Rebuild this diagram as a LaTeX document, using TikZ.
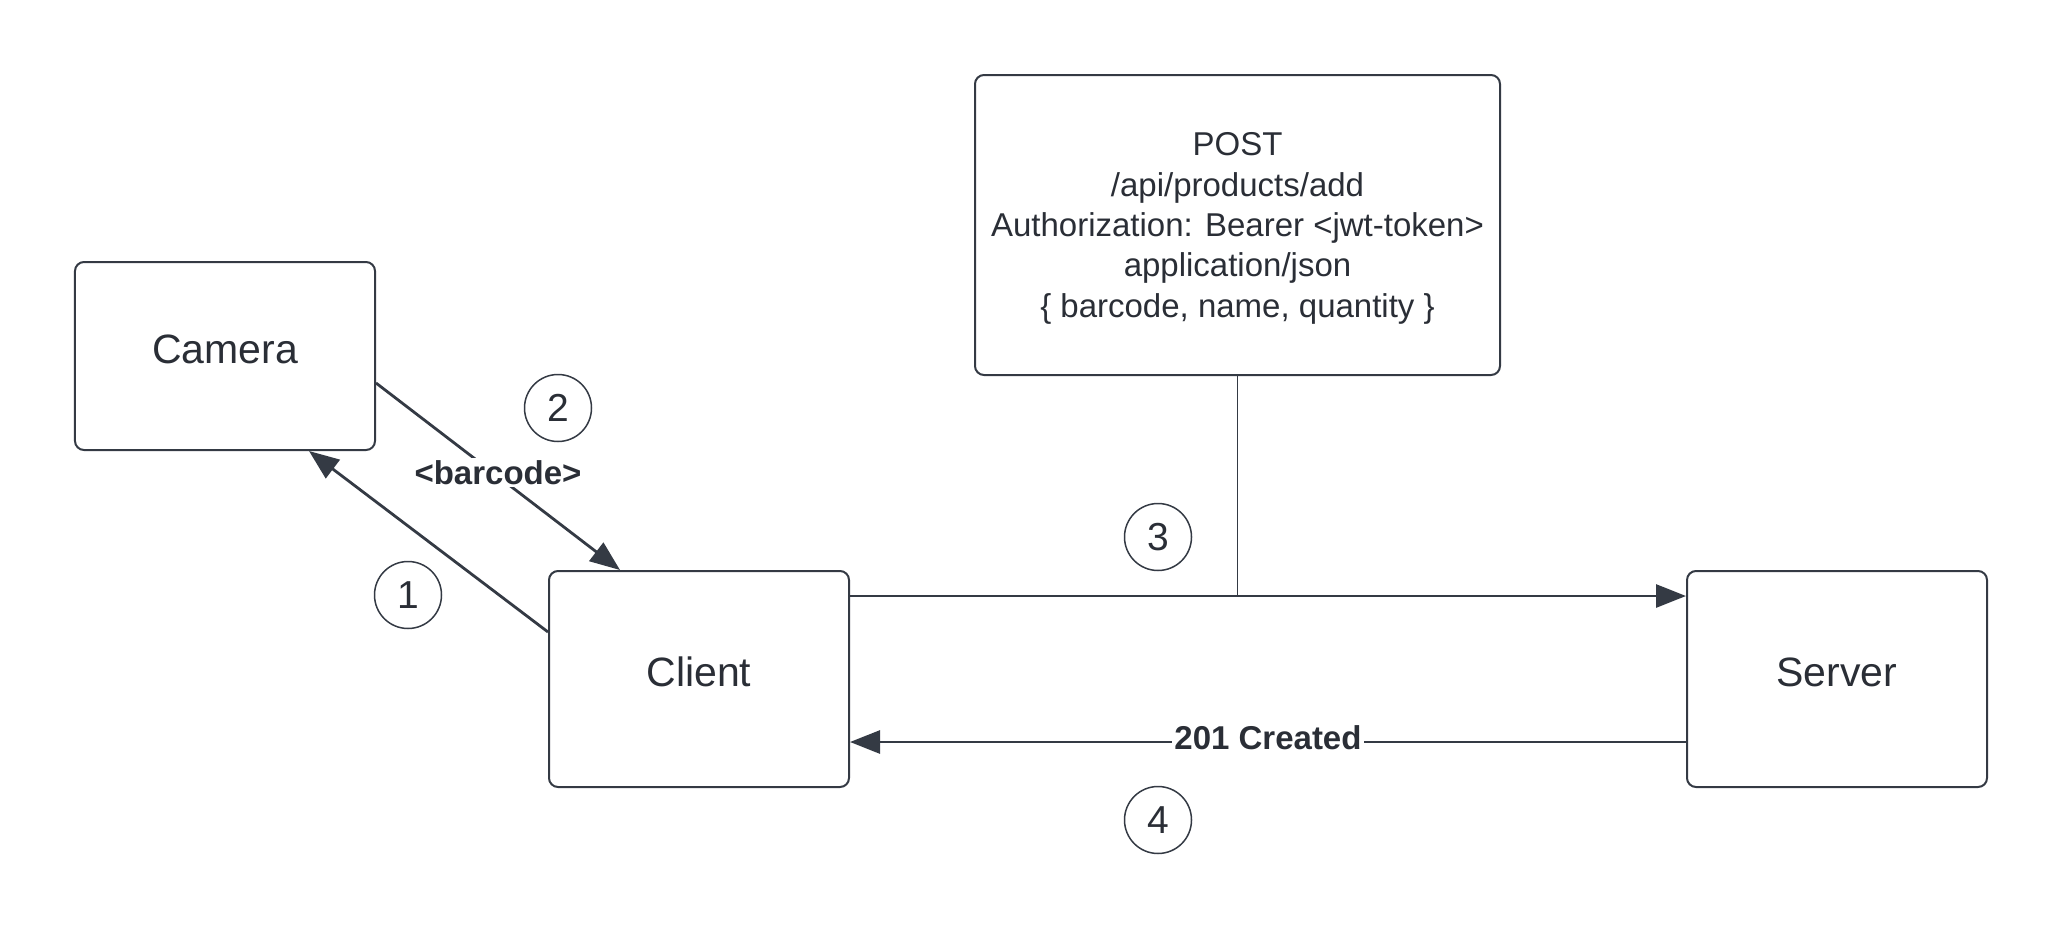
\documentclass[tikz,border=0pt]{standalone}
\usepackage{fontspec}
\setmainfont{Liberation Sans}
\usetikzlibrary{arrows.meta}
\definecolor{ink}{RGB}{52,58,68}
\definecolor{txt}{RGB}{42,46,54}
\begin{document}
\begin{tikzpicture}[x=1bp,y=-1bp,
  box/.style={draw=ink, line width=2bp, rounded corners=9bp, minimum width=300bp, inner sep=0pt, text=txt, text depth=14bp, font=\fontsize{41bp}{49bp}\selectfont},
  notebox/.style={draw=ink, line width=2bp, rounded corners=9bp, minimum width=525bp, minimum height=300bp, inner sep=0pt, text=txt, align=center, font=\fontsize{33bp}{40.3bp}\selectfont},
  stepnum/.style={draw=ink, line width=1.5bp, circle, minimum size=67bp, inner sep=0pt, text=txt, font=\fontsize{39bp}{44bp}\selectfont},
  arr/.style={draw=ink, line width=2.8bp, -{Triangle[length=30bp, width=23bp]}},
  lbl/.style={fill=white, text=txt, inner sep=2bp, yshift=4bp, font=\fontsize{33bp}{40bp}\selectfont\bfseries},
  thin/.style={draw=ink, line width=1.2bp}]
\useasboundingbox (0,0) rectangle (2063,928);

\node[box, minimum height=188bp] (camera) at (225,356) {Camera};
\node[box, minimum height=216bp] (client) at (699,679) {Client};
\node[box, minimum height=216bp] (server) at (1837,679) {Server};
\node[notebox, text depth=0bp] (post) at (1237.5,225) {POST\\/api/products/add\\Authorization: Bearer <jwt-token>\\application/json\\\{ barcode, name, quantity \}};

\node[stepnum] (s1) at (408,595) {1};
\node[stepnum] (s2) at (558,408) {2};
\node[stepnum] (s3) at (1158,537) {3};
\node[stepnum] (s4) at (1158,820) {4};

\coordinate (c3a) at ([yshift=83bp]client.east);
\coordinate (c3b) at ([yshift=83bp]server.west);

\draw[arr] ([yshift=47bp]client.west) -- ([xshift=84bp]camera.south);
\draw[arr] ([yshift=-27bp]camera.east) -- node[lbl, midway] {<barcode>} ([xshift=-79bp]client.north);
\draw[arr] (c3a) -- (c3b);
\draw[thin] (post.south) -- (post.south |- c3a);
\draw[arr] ([yshift=-63bp]server.west) -- node[lbl, midway] {201 Created} ([yshift=-63bp]client.east);
\end{tikzpicture}
\end{document}
